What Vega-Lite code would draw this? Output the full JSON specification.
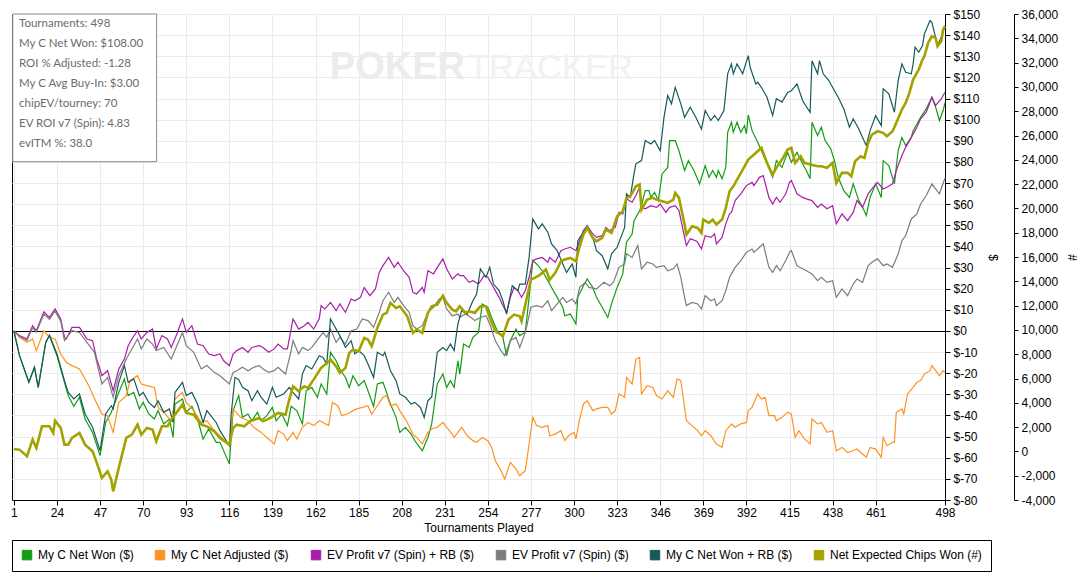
{
"$schema": "https://vega.github.io/schema/vega-lite/v6.json",
"width": 933, "height": 486,
"autosize": {"type": "none"},
"padding": {"left": 12, "top": 14, "right": 137, "bottom": 85},
"config": {
  "view": {"stroke": "black", "strokeWidth": 1},
  "axis": {"labelFont": "Liberation Sans", "labelFontSize": 12, "labelColor": "black", "titleFont": "Liberation Sans", "titleFontSize": 12, "titleFontWeight": "normal", "titleColor": "black", "domainColor": "black", "tickColor": "black", "labelOverlap": false, "labelFlush": false}
},
"datasets": {
  "info": [{"info": "Tournaments: 498\nMy C Net Won: $108.00\nROI % Adjusted: -1.28\nMy C Avg Buy-In: $3.00\nchipEV/tourney: 70\nEV ROI v7 (Spin): 4.83\nevITM %: 38.0"}],
  "wm": [{"a": "POKER", "b": "TRACKER"}],
  "nw": [{"t":1,"v":0},{"t":4,"v":-11.7},{"t":9,"v":-24.3},{"t":12,"v":-17.2},{"t":14,"v":-26.7},{"t":18,"v":-5.4},{"t":20,"v":-2.2},{"t":21,"v":-4.6},{"t":24,"v":-11.7},{"t":28,"v":-24.3},{"t":30,"v":-30.6},{"t":33,"v":-35.7},{"t":36,"v":-31.4},{"t":39,"v":-41.7},{"t":43,"v":-48.0},{"t":47,"v":-59.0},{"t":50,"v":-43.3},{"t":53,"v":-38.5},{"t":57,"v":-29.1},{"t":60,"v":-22.7},{"t":62,"v":-30.6},{"t":65,"v":-29.1},{"t":68,"v":-36.9},{"t":70,"v":-33.8},{"t":73,"v":-39.3},{"t":76,"v":-41.7},{"t":78,"v":-37.7},{"t":81,"v":-44.0},{"t":84,"v":-41.7},{"t":86,"v":-50.4},{"t":87,"v":-34.6},{"t":91,"v":-32.2},{"t":93,"v":-38.5},{"t":96,"v":-35.7},{"t":99,"v":-41.7},{"t":102,"v":-51.1},{"t":105,"v":-46.4},{"t":109,"v":-52.7},{"t":111,"v":-52.7},{"t":116,"v":-62.9},{"t":118,"v":-37.7},{"t":121,"v":-30.6},{"t":123,"v":-40.9},{"t":126,"v":-39.3},{"t":128,"v":-42.5},{"t":131,"v":-38.5},{"t":133,"v":-42.5},{"t":136,"v":-40.1},{"t":139,"v":-36.2},{"t":141,"v":-42.5},{"t":144,"v":-39.3},{"t":147,"v":-44.8},{"t":149,"v":-35.7},{"t":152,"v":-37.7},{"t":155,"v":-44.0},{"t":157,"v":-28.3},{"t":160,"v":-26.7},{"t":163,"v":-31.4},{"t":165,"v":-25.1},{"t":168,"v":-29.8},{"t":170,"v":-10.1},{"t":173,"v":-14.1},{"t":175,"v":-18.0},{"t":178,"v":-22.0},{"t":180,"v":-26.7},{"t":182,"v":-21.2},{"t":185,"v":-25.9},{"t":188,"v":-23.5},{"t":190,"v":-28.3},{"t":193,"v":-35.7},{"t":195,"v":-25.1},{"t":198,"v":-24.3},{"t":199,"v":-26.7},{"t":202,"v":-34.6},{"t":205,"v":-40.9},{"t":207,"v":-48.0},{"t":210,"v":-45.6},{"t":213,"v":-48.8},{"t":215,"v":-51.9},{"t":219,"v":-56.7},{"t":222,"v":-50.4},{"t":224,"v":-44.0},{"t":227,"v":-25.1},{"t":230,"v":-20.4},{"t":232,"v":-26.7},{"t":234,"v":-23.5},{"t":236,"v":-26.7},{"t":238,"v":-14.1},{"t":239,"v":-20.4},{"t":241,"v":-6.2},{"t":244,"v":-7.8},{"t":246,"v":-3.0},{"t":249,"v":-0.7},{"t":251,"v":12.8},{"t":254,"v":11.2},{"t":256,"v":6.4},{"t":259,"v":0.1},{"t":262,"v":-3.0},{"t":264,"v":-11.7},{"t":266,"v":-4.6},{"t":269,"v":0.9},{"t":271,"v":-2.2},{"t":274,"v":-0.7},{"t":276,"v":15.9},{"t":278,"v":33.3},{"t":280,"v":31.7},{"t":283,"v":28.5},{"t":286,"v":23.8},{"t":288,"v":20.6},{"t":291,"v":15.9},{"t":294,"v":11.2},{"t":295,"v":7.2},{"t":298,"v":8.0},{"t":301,"v":3.3},{"t":302,"v":15.9},{"t":305,"v":21.4},{"t":307,"v":24.6},{"t":310,"v":20.6},{"t":312,"v":15.9},{"t":315,"v":11.2},{"t":318,"v":6.4},{"t":320,"v":12.8},{"t":323,"v":20.6},{"t":326,"v":27.0},{"t":328,"v":42.0},{"t":331,"v":45.9},{"t":332,"v":52.2},{"t":335,"v":56.9},{"t":336,"v":59.5},{"t":338,"v":66.4},{"t":340,"v":66.4},{"t":341,"v":63.2},{"t":343,"v":65.6},{"t":345,"v":61.7},{"t":347,"v":74.3},{"t":350,"v":77.4},{"t":351,"v":90.1},{"t":354,"v":90.1},{"t":356,"v":85.3},{"t":359,"v":75.9},{"t":361,"v":80.6},{"t":364,"v":75.9},{"t":367,"v":69.6},{"t":370,"v":78.3},{"t":372,"v":72.7},{"t":374,"v":75.9},{"t":376,"v":72.7},{"t":377,"v":75.9},{"t":379,"v":72.0},{"t":381,"v":77.4},{"t":382,"v":94.0},{"t":384,"v":98.8},{"t":385,"v":94.0},{"t":387,"v":98.8},{"t":389,"v":94.0},{"t":391,"v":97.2},{"t":392,"v":93.3},{"t":393,"v":102.3},{"t":395,"v":94.8},{"t":398,"v":89.3},{"t":400,"v":85.3},{"t":403,"v":79.1},{"t":406,"v":72.7},{"t":408,"v":80.6},{"t":411,"v":77.4},{"t":414,"v":84.5},{"t":416,"v":79.8},{"t":419,"v":84.5},{"t":422,"v":79.1},{"t":424,"v":75.9},{"t":426,"v":72.0},{"t":427,"v":98.8},{"t":430,"v":92.5},{"t":432,"v":96.4},{"t":434,"v":90.1},{"t":437,"v":86.2},{"t":439,"v":80.6},{"t":441,"v":72.7},{"t":444,"v":66.4},{"t":447,"v":63.2},{"t":449,"v":69.6},{"t":452,"v":61.7},{"t":454,"v":58.5},{"t":456,"v":54.6},{"t":458,"v":63.2},{"t":461,"v":69.6},{"t":464,"v":63.2},{"t":465,"v":80.6},{"t":468,"v":78.3},{"t":471,"v":69.6},{"t":473,"v":85.3},{"t":475,"v":91.6},{"t":477,"v":87.7},{"t":480,"v":91.6},{"t":481,"v":94.8},{"t":485,"v":101.1},{"t":488,"v":105.1},{"t":491,"v":110.6},{"t":493,"v":105.9},{"t":495,"v":99.6},{"t":497,"v":104.3},{"t":498,"v":108.0}],
  "na": [{"t":1,"v":0},{"t":4,"v":-3.0},{"t":8,"v":-5.4},{"t":11,"v":-3.8},{"t":13,"v":-9.3},{"t":17,"v":0.1},{"t":20,"v":-3.0},{"t":23,"v":-3.8},{"t":26,"v":-10.9},{"t":29,"v":-14.9},{"t":32,"v":-16.4},{"t":36,"v":-18.0},{"t":41,"v":-25.9},{"t":45,"v":-33.8},{"t":48,"v":-39.3},{"t":51,"v":-40.1},{"t":54,"v":-48.0},{"t":57,"v":-33.8},{"t":61,"v":-30.6},{"t":63,"v":-23.5},{"t":67,"v":-21.2},{"t":69,"v":-25.1},{"t":72,"v":-25.9},{"t":76,"v":-26.7},{"t":78,"v":-36.2},{"t":81,"v":-38.5},{"t":85,"v":-42.5},{"t":87,"v":-32.2},{"t":91,"v":-29.1},{"t":93,"v":-33.8},{"t":97,"v":-37.7},{"t":101,"v":-43.3},{"t":104,"v":-42.5},{"t":108,"v":-47.2},{"t":111,"v":-49.6},{"t":116,"v":-54.3},{"t":118,"v":-36.9},{"t":122,"v":-40.9},{"t":126,"v":-42.5},{"t":129,"v":-45.6},{"t":133,"v":-48.0},{"t":136,"v":-50.4},{"t":140,"v":-53.5},{"t":142,"v":-47.2},{"t":145,"v":-48.8},{"t":147,"v":-51.9},{"t":150,"v":-48.0},{"t":152,"v":-51.1},{"t":155,"v":-45.6},{"t":158,"v":-43.3},{"t":161,"v":-44.8},{"t":164,"v":-42.5},{"t":166,"v":-43.3},{"t":169,"v":-44.8},{"t":171,"v":-33.8},{"t":174,"v":-35.4},{"t":176,"v":-40.1},{"t":179,"v":-39.3},{"t":182,"v":-37.7},{"t":184,"v":-36.9},{"t":187,"v":-36.2},{"t":190,"v":-35.4},{"t":192,"v":-39.3},{"t":195,"v":-35.4},{"t":198,"v":-31.4},{"t":200,"v":-30.6},{"t":202,"v":-35.4},{"t":205,"v":-34.6},{"t":207,"v":-37.7},{"t":211,"v":-43.3},{"t":214,"v":-48.8},{"t":216,"v":-50.4},{"t":219,"v":-53.5},{"t":222,"v":-48.0},{"t":224,"v":-46.4},{"t":227,"v":-45.6},{"t":230,"v":-43.3},{"t":232,"v":-45.6},{"t":235,"v":-48.8},{"t":236,"v":-50.4},{"t":238,"v":-48.0},{"t":240,"v":-45.6},{"t":243,"v":-49.6},{"t":246,"v":-51.9},{"t":248,"v":-52.7},{"t":251,"v":-50.4},{"t":254,"v":-51.9},{"t":256,"v":-55.1},{"t":258,"v":-61.4},{"t":261,"v":-66.1},{"t":263,"v":-70.1},{"t":266,"v":-62.2},{"t":269,"v":-65.3},{"t":271,"v":-68.5},{"t":274,"v":-66.1},{"t":276,"v":-53.5},{"t":278,"v":-40.9},{"t":280,"v":-44.8},{"t":283,"v":-45.6},{"t":286,"v":-44.8},{"t":287,"v":-49.6},{"t":290,"v":-48.8},{"t":293,"v":-47.2},{"t":295,"v":-51.9},{"t":297,"v":-49.6},{"t":300,"v":-48.0},{"t":301,"v":-51.1},{"t":303,"v":-41.7},{"t":305,"v":-34.6},{"t":307,"v":-33.0},{"t":310,"v":-37.7},{"t":312,"v":-36.9},{"t":315,"v":-36.2},{"t":318,"v":-36.2},{"t":320,"v":-39.3},{"t":322,"v":-37.7},{"t":324,"v":-29.8},{"t":327,"v":-31.4},{"t":328,"v":-22.0},{"t":331,"v":-25.1},{"t":333,"v":-13.3},{"t":335,"v":-12.5},{"t":336,"v":-29.8},{"t":339,"v":-25.9},{"t":342,"v":-26.7},{"t":344,"v":-30.6},{"t":347,"v":-32.2},{"t":350,"v":-28.3},{"t":353,"v":-31.4},{"t":355,"v":-22.7},{"t":357,"v":-23.5},{"t":359,"v":-36.2},{"t":360,"v":-42.5},{"t":363,"v":-44.8},{"t":366,"v":-47.2},{"t":368,"v":-49.6},{"t":370,"v":-47.2},{"t":373,"v":-49.6},{"t":376,"v":-53.5},{"t":379,"v":-55.1},{"t":381,"v":-47.2},{"t":384,"v":-44.0},{"t":386,"v":-45.6},{"t":389,"v":-44.0},{"t":392,"v":-43.3},{"t":393,"v":-37.7},{"t":395,"v":-36.2},{"t":398,"v":-29.8},{"t":400,"v":-32.2},{"t":402,"v":-31.4},{"t":404,"v":-40.1},{"t":407,"v":-40.1},{"t":408,"v":-42.5},{"t":411,"v":-40.9},{"t":414,"v":-38.5},{"t":416,"v":-39.3},{"t":418,"v":-50.4},{"t":420,"v":-47.2},{"t":423,"v":-51.1},{"t":426,"v":-53.5},{"t":427,"v":-41.7},{"t":430,"v":-44.0},{"t":432,"v":-43.3},{"t":435,"v":-48.0},{"t":438,"v":-47.2},{"t":440,"v":-56.7},{"t":443,"v":-55.1},{"t":446,"v":-57.5},{"t":449,"v":-56.7},{"t":451,"v":-55.9},{"t":454,"v":-58.2},{"t":456,"v":-59.8},{"t":458,"v":-55.1},{"t":461,"v":-55.9},{"t":464,"v":-59.8},{"t":465,"v":-50.4},{"t":467,"v":-54.3},{"t":470,"v":-52.7},{"t":471,"v":-52.7},{"t":472,"v":-38.5},{"t":475,"v":-36.9},{"t":476,"v":-39.3},{"t":478,"v":-29.8},{"t":481,"v":-26.7},{"t":483,"v":-24.3},{"t":485,"v":-23.5},{"t":487,"v":-20.4},{"t":490,"v":-18.8},{"t":491,"v":-16.4},{"t":493,"v":-18.8},{"t":495,"v":-21.2},{"t":497,"v":-18.8},{"t":498,"v":-19.5}],
  "evrb": [{"t":1,"v":0},{"t":4,"v":-2.2},{"t":8,"v":-3.8},{"t":11,"v":2.5},{"t":13,"v":0.1},{"t":17,"v":9.1},{"t":20,"v":6.4},{"t":23,"v":10.4},{"t":26,"v":5.7},{"t":28,"v":-3.0},{"t":29,"v":-3.8},{"t":32,"v":1.7},{"t":36,"v":1.7},{"t":40,"v":-3.8},{"t":43,"v":-4.6},{"t":45,"v":-12.5},{"t":48,"v":-21.2},{"t":51,"v":-18.8},{"t":54,"v":-28.3},{"t":57,"v":-18.0},{"t":60,"v":-13.3},{"t":62,"v":-7.0},{"t":64,"v":-3.8},{"t":67,"v":0.1},{"t":69,"v":-3.8},{"t":72,"v":-0.7},{"t":75,"v":0.9},{"t":77,"v":-8.5},{"t":80,"v":-2.2},{"t":83,"v":-3.8},{"t":85,"v":-7.8},{"t":88,"v":-1.4},{"t":91,"v":5.7},{"t":93,"v":-0.7},{"t":96,"v":2.5},{"t":99,"v":-6.2},{"t":102,"v":-7.0},{"t":105,"v":-10.9},{"t":108,"v":-11.7},{"t":111,"v":-10.9},{"t":113,"v":-14.1},{"t":116,"v":-16.4},{"t":118,"v":-10.9},{"t":120,"v":-9.3},{"t":123,"v":-7.8},{"t":126,"v":-10.1},{"t":128,"v":-7.8},{"t":132,"v":-7.0},{"t":134,"v":-7.8},{"t":137,"v":-10.1},{"t":140,"v":-8.5},{"t":142,"v":-6.2},{"t":145,"v":-8.5},{"t":147,"v":-8.5},{"t":150,"v":5.7},{"t":153,"v":0.9},{"t":156,"v":2.5},{"t":158,"v":4.1},{"t":161,"v":0.9},{"t":164,"v":5.7},{"t":165,"v":12.0},{"t":167,"v":10.4},{"t":170,"v":13.5},{"t":173,"v":9.6},{"t":175,"v":12.8},{"t":178,"v":8.8},{"t":181,"v":15.1},{"t":183,"v":14.3},{"t":186,"v":15.9},{"t":188,"v":20.6},{"t":191,"v":16.7},{"t":194,"v":19.9},{"t":196,"v":27.7},{"t":198,"v":30.9},{"t":201,"v":34.8},{"t":204,"v":30.1},{"t":206,"v":32.5},{"t":209,"v":28.5},{"t":212,"v":25.4},{"t":214,"v":18.3},{"t":216,"v":17.5},{"t":219,"v":20.6},{"t":220,"v":18.3},{"t":222,"v":28.5},{"t":225,"v":27.0},{"t":227,"v":30.1},{"t":230,"v":34.1},{"t":232,"v":29.4},{"t":235,"v":24.6},{"t":238,"v":27.0},{"t":239,"v":26.2},{"t":241,"v":26.2},{"t":244,"v":23.0},{"t":246,"v":23.8},{"t":249,"v":22.2},{"t":252,"v":26.2},{"t":254,"v":25.4},{"t":256,"v":22.2},{"t":258,"v":19.1},{"t":260,"v":15.9},{"t":262,"v":12.0},{"t":264,"v":8.8},{"t":266,"v":15.9},{"t":268,"v":20.6},{"t":270,"v":19.1},{"t":272,"v":15.9},{"t":274,"v":19.1},{"t":276,"v":25.4},{"t":278,"v":33.3},{"t":280,"v":34.1},{"t":283,"v":34.8},{"t":286,"v":32.5},{"t":287,"v":34.8},{"t":290,"v":32.5},{"t":293,"v":38.0},{"t":295,"v":38.8},{"t":298,"v":39.6},{"t":301,"v":38.0},{"t":303,"v":42.7},{"t":305,"v":47.5},{"t":307,"v":49.8},{"t":310,"v":45.9},{"t":312,"v":44.3},{"t":315,"v":45.1},{"t":317,"v":49.0},{"t":319,"v":47.5},{"t":322,"v":49.0},{"t":324,"v":56.1},{"t":326,"v":55.4},{"t":328,"v":62.5},{"t":331,"v":60.9},{"t":333,"v":64.1},{"t":335,"v":68.0},{"t":336,"v":58.5},{"t":338,"v":57.8},{"t":341,"v":59.3},{"t":344,"v":58.5},{"t":346,"v":60.1},{"t":349,"v":56.1},{"t":351,"v":58.5},{"t":354,"v":59.3},{"t":356,"v":57.0},{"t":359,"v":44.3},{"t":360,"v":40.4},{"t":362,"v":43.6},{"t":365,"v":42.7},{"t":366,"v":41.9},{"t":368,"v":38.8},{"t":370,"v":45.1},{"t":373,"v":44.3},{"t":375,"v":45.9},{"t":376,"v":41.2},{"t":379,"v":44.3},{"t":381,"v":50.7},{"t":383,"v":55.4},{"t":384,"v":56.1},{"t":386,"v":61.7},{"t":389,"v":64.9},{"t":392,"v":68.8},{"t":395,"v":70.3},{"t":396,"v":68.8},{"t":399,"v":72.7},{"t":401,"v":73.5},{"t":404,"v":63.2},{"t":406,"v":60.1},{"t":408,"v":63.2},{"t":410,"v":60.9},{"t":413,"v":64.9},{"t":415,"v":70.3},{"t":416,"v":71.2},{"t":419,"v":64.9},{"t":422,"v":63.2},{"t":424,"v":62.5},{"t":427,"v":61.7},{"t":430,"v":58.5},{"t":432,"v":60.1},{"t":435,"v":57.8},{"t":438,"v":59.3},{"t":440,"v":50.7},{"t":443,"v":55.4},{"t":446,"v":52.2},{"t":449,"v":56.1},{"t":451,"v":61.7},{"t":454,"v":58.5},{"t":457,"v":64.9},{"t":459,"v":67.2},{"t":462,"v":70.3},{"t":465,"v":67.2},{"t":467,"v":68.0},{"t":470,"v":69.6},{"t":472,"v":75.9},{"t":475,"v":83.0},{"t":477,"v":86.9},{"t":480,"v":91.6},{"t":483,"v":96.4},{"t":485,"v":100.4},{"t":488,"v":103.5},{"t":491,"v":110.6},{"t":493,"v":106.7},{"t":496,"v":109.8},{"t":498,"v":113.0}],
  "ev": [{"t":1,"v":0},{"t":4,"v":-2.5},{"t":8,"v":-4.5},{"t":11,"v":1.5},{"t":13,"v":-0.5},{"t":17,"v":8.0},{"t":20,"v":5.5},{"t":23,"v":9.5},{"t":26,"v":4.5},{"t":28,"v":-4.6},{"t":32,"v":0.1},{"t":36,"v":-0.7},{"t":40,"v":-5.4},{"t":44,"v":-10.1},{"t":48,"v":-25.1},{"t":51,"v":-22.0},{"t":54,"v":-31.4},{"t":57,"v":-21.2},{"t":61,"v":-13.3},{"t":67,"v":-3.8},{"t":69,"v":-8.5},{"t":72,"v":-3.8},{"t":75,"v":-6.2},{"t":77,"v":-9.3},{"t":81,"v":-7.8},{"t":85,"v":-13.3},{"t":88,"v":-7.0},{"t":91,"v":-0.7},{"t":93,"v":-7.0},{"t":97,"v":-10.1},{"t":101,"v":-18.0},{"t":104,"v":-16.4},{"t":108,"v":-19.6},{"t":111,"v":-21.2},{"t":116,"v":-25.1},{"t":118,"v":-19.6},{"t":120,"v":-18.8},{"t":123,"v":-17.2},{"t":126,"v":-18.8},{"t":129,"v":-17.2},{"t":132,"v":-16.4},{"t":134,"v":-18.0},{"t":137,"v":-19.6},{"t":140,"v":-18.8},{"t":142,"v":-17.2},{"t":146,"v":-20.4},{"t":149,"v":-9.3},{"t":150,"v":-4.6},{"t":153,"v":-10.9},{"t":155,"v":-7.8},{"t":158,"v":-9.3},{"t":160,"v":-7.8},{"t":164,"v":-3.0},{"t":166,"v":-0.7},{"t":168,"v":-3.0},{"t":170,"v":0.9},{"t":173,"v":-5.4},{"t":175,"v":-3.0},{"t":178,"v":-6.2},{"t":181,"v":0.1},{"t":184,"v":0.9},{"t":187,"v":5.7},{"t":190,"v":4.9},{"t":193,"v":1.7},{"t":196,"v":8.8},{"t":198,"v":14.3},{"t":201,"v":18.3},{"t":204,"v":13.5},{"t":206,"v":15.9},{"t":209,"v":12.0},{"t":212,"v":8.8},{"t":214,"v":2.5},{"t":216,"v":0.9},{"t":219,"v":2.5},{"t":222,"v":8.8},{"t":225,"v":11.2},{"t":228,"v":15.1},{"t":230,"v":15.9},{"t":232,"v":10.4},{"t":235,"v":7.2},{"t":238,"v":8.0},{"t":239,"v":6.4},{"t":242,"v":8.0},{"t":245,"v":6.4},{"t":247,"v":4.9},{"t":250,"v":6.4},{"t":253,"v":7.2},{"t":255,"v":3.3},{"t":258,"v":-4.6},{"t":261,"v":-9.3},{"t":263,"v":-11.7},{"t":266,"v":-4.6},{"t":269,"v":-3.0},{"t":271,"v":-7.8},{"t":274,"v":-0.7},{"t":277,"v":11.2},{"t":280,"v":12.0},{"t":283,"v":11.2},{"t":286,"v":14.3},{"t":288,"v":9.6},{"t":291,"v":12.8},{"t":294,"v":15.9},{"t":296,"v":13.5},{"t":299,"v":15.1},{"t":301,"v":12.8},{"t":303,"v":20.6},{"t":306,"v":23.0},{"t":308,"v":20.6},{"t":312,"v":19.9},{"t":316,"v":23.0},{"t":319,"v":21.4},{"t":321,"v":23.0},{"t":324,"v":30.1},{"t":327,"v":31.7},{"t":328,"v":36.5},{"t":331,"v":34.8},{"t":334,"v":40.4},{"t":336,"v":29.4},{"t":339,"v":32.5},{"t":342,"v":31.7},{"t":344,"v":30.1},{"t":348,"v":30.9},{"t":350,"v":28.5},{"t":353,"v":29.4},{"t":355,"v":31.7},{"t":357,"v":25.4},{"t":359,"v":15.9},{"t":360,"v":12.0},{"t":363,"v":13.5},{"t":366,"v":12.8},{"t":368,"v":10.4},{"t":370,"v":16.7},{"t":373,"v":14.3},{"t":375,"v":15.1},{"t":376,"v":12.0},{"t":379,"v":14.3},{"t":381,"v":19.1},{"t":383,"v":25.4},{"t":384,"v":27.0},{"t":386,"v":30.1},{"t":389,"v":33.3},{"t":392,"v":37.2},{"t":395,"v":38.8},{"t":396,"v":37.2},{"t":399,"v":39.6},{"t":401,"v":41.2},{"t":404,"v":30.1},{"t":406,"v":27.7},{"t":408,"v":30.9},{"t":410,"v":28.5},{"t":413,"v":33.3},{"t":415,"v":37.2},{"t":416,"v":38.0},{"t":419,"v":30.9},{"t":422,"v":29.4},{"t":424,"v":28.5},{"t":427,"v":27.0},{"t":430,"v":23.8},{"t":432,"v":25.4},{"t":435,"v":23.0},{"t":438,"v":23.8},{"t":440,"v":15.9},{"t":443,"v":19.9},{"t":446,"v":16.7},{"t":449,"v":22.2},{"t":451,"v":24.6},{"t":454,"v":23.0},{"t":457,"v":30.9},{"t":459,"v":32.5},{"t":462,"v":34.1},{"t":465,"v":30.9},{"t":467,"v":31.7},{"t":470,"v":30.1},{"t":473,"v":36.5},{"t":475,"v":42.7},{"t":477,"v":45.1},{"t":480,"v":53.0},{"t":483,"v":55.4},{"t":485,"v":60.1},{"t":488,"v":64.1},{"t":491,"v":69.6},{"t":493,"v":67.2},{"t":495,"v":64.9},{"t":498,"v":72.3}],
  "nwrb": [{"t":1,"v":0},{"t":4,"v":-11.7},{"t":9,"v":-24.3},{"t":12,"v":-17.2},{"t":14,"v":-26.7},{"t":18,"v":-5.4},{"t":20,"v":-2.0},{"t":24,"v":-10.9},{"t":28,"v":-23.5},{"t":30,"v":-29.1},{"t":33,"v":-32.2},{"t":36,"v":-29.8},{"t":39,"v":-39.3},{"t":43,"v":-45.6},{"t":47,"v":-56.7},{"t":50,"v":-39.3},{"t":53,"v":-35.4},{"t":54,"v":-36.9},{"t":57,"v":-24.3},{"t":60,"v":-16.4},{"t":62,"v":-24.3},{"t":65,"v":-22.7},{"t":68,"v":-30.6},{"t":70,"v":-29.1},{"t":73,"v":-33.8},{"t":76,"v":-36.2},{"t":78,"v":-33.0},{"t":81,"v":-38.5},{"t":84,"v":-36.9},{"t":86,"v":-43.3},{"t":87,"v":-29.1},{"t":91,"v":-24.3},{"t":93,"v":-30.6},{"t":96,"v":-29.1},{"t":99,"v":-34.6},{"t":102,"v":-43.3},{"t":104,"v":-37.7},{"t":109,"v":-43.3},{"t":111,"v":-47.2},{"t":116,"v":-54.3},{"t":117,"v":-39.3},{"t":119,"v":-22.0},{"t":121,"v":-23.0},{"t":123,"v":-26.7},{"t":126,"v":-28.3},{"t":128,"v":-33.0},{"t":131,"v":-28.3},{"t":133,"v":-31.4},{"t":136,"v":-34.6},{"t":139,"v":-26.7},{"t":141,"v":-31.4},{"t":145,"v":-29.8},{"t":148,"v":-26.7},{"t":150,"v":-29.1},{"t":153,"v":-32.2},{"t":155,"v":-20.4},{"t":157,"v":-16.4},{"t":160,"v":-18.0},{"t":164,"v":-11.7},{"t":166,"v":-12.5},{"t":168,"v":-15.6},{"t":170,"v":5.7},{"t":173,"v":0.9},{"t":175,"v":-2.2},{"t":178,"v":-7.8},{"t":181,"v":-4.6},{"t":183,"v":-10.9},{"t":185,"v":-9.3},{"t":188,"v":-11.7},{"t":190,"v":-15.6},{"t":193,"v":-22.0},{"t":195,"v":-10.1},{"t":198,"v":-11.7},{"t":199,"v":-10.1},{"t":202,"v":-18.8},{"t":205,"v":-23.5},{"t":207,"v":-29.8},{"t":210,"v":-31.4},{"t":213,"v":-34.6},{"t":215,"v":-33.8},{"t":218,"v":-36.2},{"t":220,"v":-40.9},{"t":222,"v":-33.0},{"t":224,"v":-31.4},{"t":227,"v":-10.1},{"t":230,"v":-7.8},{"t":232,"v":-9.3},{"t":234,"v":-6.2},{"t":236,"v":-9.3},{"t":238,"v":3.3},{"t":240,"v":9.6},{"t":243,"v":8.0},{"t":246,"v":14.3},{"t":248,"v":17.5},{"t":250,"v":29.4},{"t":253,"v":25.4},{"t":255,"v":30.1},{"t":257,"v":22.2},{"t":260,"v":19.1},{"t":262,"v":14.3},{"t":264,"v":8.0},{"t":267,"v":21.4},{"t":270,"v":19.1},{"t":271,"v":22.2},{"t":274,"v":22.2},{"t":276,"v":34.8},{"t":278,"v":53.0},{"t":279,"v":51.4},{"t":281,"v":48.3},{"t":283,"v":50.7},{"t":286,"v":46.7},{"t":288,"v":41.2},{"t":291,"v":38.0},{"t":294,"v":31.7},{"t":296,"v":27.7},{"t":299,"v":31.7},{"t":301,"v":25.4},{"t":302,"v":42.7},{"t":305,"v":46.7},{"t":307,"v":49.8},{"t":310,"v":44.3},{"t":312,"v":38.0},{"t":315,"v":35.6},{"t":318,"v":29.4},{"t":320,"v":36.5},{"t":323,"v":39.6},{"t":325,"v":44.3},{"t":327,"v":49.0},{"t":328,"v":64.9},{"t":330,"v":63.2},{"t":332,"v":74.3},{"t":333,"v":79.1},{"t":336,"v":80.6},{"t":338,"v":90.1},{"t":341,"v":88.5},{"t":343,"v":90.1},{"t":346,"v":85.3},{"t":348,"v":101.1},{"t":350,"v":111.4},{"t":352,"v":107.5},{"t":354,"v":115.3},{"t":357,"v":107.5},{"t":359,"v":101.1},{"t":362,"v":105.9},{"t":365,"v":101.1},{"t":368,"v":95.5},{"t":370,"v":104.3},{"t":373,"v":99.6},{"t":375,"v":102.0},{"t":377,"v":99.6},{"t":380,"v":104.3},{"t":382,"v":121.7},{"t":384,"v":126.4},{"t":385,"v":121.7},{"t":387,"v":126.4},{"t":390,"v":121.7},{"t":393,"v":130.3},{"t":394,"v":124.8},{"t":397,"v":116.9},{"t":398,"v":117.7},{"t":400,"v":115.3},{"t":403,"v":110.6},{"t":406,"v":102.0},{"t":408,"v":109.9},{"t":411,"v":108.3},{"t":414,"v":112.9},{"t":416,"v":113.7},{"t":419,"v":116.9},{"t":422,"v":109.1},{"t":423,"v":107.5},{"t":426,"v":103.5},{"t":427,"v":127.9},{"t":430,"v":121.7},{"t":431,"v":127.9},{"t":433,"v":121.7},{"t":436,"v":118.5},{"t":439,"v":113.7},{"t":441,"v":110.6},{"t":444,"v":105.1},{"t":447,"v":96.4},{"t":449,"v":100.4},{"t":452,"v":95.6},{"t":454,"v":91.6},{"t":456,"v":87.7},{"t":458,"v":94.8},{"t":461,"v":101.9},{"t":464,"v":97.2},{"t":465,"v":114.6},{"t":468,"v":112.2},{"t":471,"v":103.5},{"t":473,"v":118.5},{"t":475,"v":126.4},{"t":477,"v":122.4},{"t":480,"v":121.7},{"t":481,"v":126.4},{"t":482,"v":134.3},{"t":484,"v":131.9},{"t":486,"v":135.1},{"t":487,"v":140.6},{"t":490,"v":146.9},{"t":491,"v":146.1},{"t":494,"v":135.1},{"t":496,"v":139.0},{"t":498,"v":144.5}],
  "chips": [{"t":1,"v":200},{"t":4,"v":146},{"t":8,"v":-405},{"t":11,"v":969},{"t":13,"v":286},{"t":16,"v":2064},{"t":20,"v":2064},{"t":22,"v":1521},{"t":23,"v":2534},{"t":26,"v":1933},{"t":28,"v":558},{"t":30,"v":558},{"t":32,"v":1110},{"t":36,"v":1521},{"t":39,"v":558},{"t":43,"v":10},{"t":45,"v":-817},{"t":48,"v":-2183},{"t":51,"v":-1640},{"t":53,"v":-2323},{"t":54,"v":-3287},{"t":57,"v":-1360},{"t":61,"v":1110},{"t":64,"v":1381},{"t":67,"v":2204},{"t":69,"v":1381},{"t":72,"v":1933},{"t":75,"v":1793},{"t":77,"v":829},{"t":80,"v":2064},{"t":83,"v":2064},{"t":85,"v":2616},{"t":91,"v":3851},{"t":93,"v":3167},{"t":97,"v":3027},{"t":101,"v":2204},{"t":104,"v":2064},{"t":108,"v":1653},{"t":111,"v":1110},{"t":116,"v":558},{"t":118,"v":1933},{"t":120,"v":2204},{"t":124,"v":2064},{"t":127,"v":2476},{"t":132,"v":2756},{"t":134,"v":2476},{"t":138,"v":2756},{"t":142,"v":3167},{"t":146,"v":3027},{"t":148,"v":4262},{"t":150,"v":5357},{"t":153,"v":4946},{"t":156,"v":5357},{"t":158,"v":5225},{"t":161,"v":5909},{"t":165,"v":6872},{"t":167,"v":7144},{"t":170,"v":7555},{"t":173,"v":7004},{"t":175,"v":6460},{"t":178,"v":6872},{"t":180,"v":8107},{"t":182,"v":8378},{"t":185,"v":8238},{"t":188,"v":9341},{"t":190,"v":9201},{"t":192,"v":8650},{"t":195,"v":10165},{"t":198,"v":11259},{"t":200,"v":11399},{"t":202,"v":12223},{"t":205,"v":11811},{"t":207,"v":11943},{"t":211,"v":11120},{"t":214,"v":9753},{"t":216,"v":10025},{"t":219,"v":9753},{"t":222,"v":11399},{"t":224,"v":11943},{"t":227,"v":12083},{"t":230,"v":12824},{"t":232,"v":12223},{"t":235,"v":11671},{"t":237,"v":11531},{"t":239,"v":11943},{"t":242,"v":11399},{"t":244,"v":11531},{"t":247,"v":11399},{"t":250,"v":11943},{"t":253,"v":11943},{"t":255,"v":10988},{"t":258,"v":9885},{"t":261,"v":9613},{"t":262,"v":9473},{"t":265,"v":10848},{"t":268,"v":11259},{"t":271,"v":11120},{"t":272,"v":10708},{"t":274,"v":12083},{"t":277,"v":14141},{"t":279,"v":14281},{"t":282,"v":14552},{"t":285,"v":14964},{"t":287,"v":14141},{"t":290,"v":14692},{"t":293,"v":15647},{"t":295,"v":15787},{"t":298,"v":15927},{"t":301,"v":15647},{"t":303,"v":16882},{"t":305,"v":17845},{"t":307,"v":18397},{"t":310,"v":17573},{"t":312,"v":17294},{"t":315,"v":17573},{"t":317,"v":18257},{"t":320,"v":17985},{"t":323,"v":19352},{"t":326,"v":19763},{"t":328,"v":20866},{"t":330,"v":20998},{"t":333,"v":21821},{"t":335,"v":21961},{"t":336,"v":19903},{"t":339,"v":20726},{"t":342,"v":20866},{"t":344,"v":20726},{"t":347,"v":20586},{"t":350,"v":20455},{"t":353,"v":20726},{"t":354,"v":21278},{"t":356,"v":20866},{"t":359,"v":18668},{"t":360,"v":17845},{"t":363,"v":18528},{"t":366,"v":18397},{"t":368,"v":17985},{"t":369,"v":19080},{"t":372,"v":18808},{"t":374,"v":19080},{"t":376,"v":18668},{"t":379,"v":19080},{"t":381,"v":20043},{"t":383,"v":21410},{"t":385,"v":21821},{"t":388,"v":22644},{"t":391,"v":23468},{"t":393,"v":24019},{"t":395,"v":24291},{"t":398,"v":24703},{"t":400,"v":24983},{"t":403,"v":23748},{"t":406,"v":22784},{"t":408,"v":23336},{"t":411,"v":24019},{"t":414,"v":24842},{"t":416,"v":24983},{"t":418,"v":23748},{"t":421,"v":24291},{"t":423,"v":23748},{"t":426,"v":23608},{"t":430,"v":23468},{"t":432,"v":23468},{"t":435,"v":23336},{"t":438,"v":23748},{"t":440,"v":22101},{"t":443,"v":22924},{"t":446,"v":22924},{"t":448,"v":22644},{"t":450,"v":23879},{"t":453,"v":24291},{"t":455,"v":24159},{"t":457,"v":25394},{"t":459,"v":26077},{"t":462,"v":26349},{"t":465,"v":26217},{"t":467,"v":25937},{"t":470,"v":26349},{"t":472,"v":27040},{"t":475,"v":28135},{"t":477,"v":28687},{"t":479,"v":29510},{"t":481,"v":30605},{"t":484,"v":31428},{"t":486,"v":32252},{"t":487,"v":32523},{"t":489,"v":33626},{"t":491,"v":34169},{"t":493,"v":34037},{"t":494,"v":33346},{"t":496,"v":33757},{"t":497,"v":34721},{"t":498,"v":34993}]
},
"layer": [
  {
    "layer": [
      {"data": {"name": "wm"}, "mark": {"type": "text", "align": "right", "baseline": "alphabetic", "font": "Liberation Sans", "fontSize": 38, "fontWeight": "bold", "color": "#ececec"},
       "encoding": {
         "x": {"datum": 241.8, "type": "quantitative", "title": "Tournaments Played", "scale": {"domain": [0, 498], "nice": false, "zero": false}, "axis": {"values": [1,24,47,70,93,116,139,162,185,208,231,254,277,300,323,346,369,392,415,438,461,498], "grid": true, "gridColor": "#ebebeb", "tickSize": 5, "labelPadding": 2, "titlePadding": 4}},
         "y": {"datum": 119.3, "type": "quantitative", "title": "$", "scale": {"domain": [-80, 150], "nice": false, "zero": false}, "axis": {"orient": "right", "values": [-80,-70,-60,-50,-40,-30,-20,-10,0,10,20,30,40,50,60,70,80,90,100,110,120,130,140,150], "labelExpr": "'$' + datum.value", "grid": true, "gridColor": {"condition": {"test": "datum.value === 0", "value": "#000000"}, "value": "#ebebeb"}, "tickSize": 5, "labelPadding": 3, "titlePadding": 6}},
         "text": {"field": "a"}}},
      {"data": {"name": "wm"}, "mark": {"type": "text", "align": "left", "baseline": "alphabetic", "font": "Liberation Sans", "fontSize": 34.5, "fontWeight": "normal", "color": "#f1f1f1"},
       "encoding": {
         "x": {"datum": 243.4, "type": "quantitative", "title": "Tournaments Played", "scale": {"domain": [0, 498], "nice": false, "zero": false}, "axis": {"values": [1,24,47,70,93,116,139,162,185,208,231,254,277,300,323,346,369,392,415,438,461,498], "grid": true, "gridColor": "#ebebeb", "tickSize": 5, "labelPadding": 2, "titlePadding": 4}},
         "y": {"datum": 119.3, "type": "quantitative", "title": "$", "scale": {"domain": [-80, 150], "nice": false, "zero": false}, "axis": {"orient": "right", "values": [-80,-70,-60,-50,-40,-30,-20,-10,0,10,20,30,40,50,60,70,80,90,100,110,120,130,140,150], "labelExpr": "'$' + datum.value", "grid": true, "gridColor": {"condition": {"test": "datum.value === 0", "value": "#000000"}, "value": "#ebebeb"}, "tickSize": 5, "labelPadding": 3, "titlePadding": 6}},
         "text": {"field": "b"}}},
      {"data": {"name": "nw"}, "mark": {"type": "line", "strokeWidth": 1.2},
       "encoding": {
         "x": {"field": "t", "type": "quantitative", "title": "Tournaments Played", "scale": {"domain": [0, 498], "nice": false, "zero": false}, "axis": {"values": [1,24,47,70,93,116,139,162,185,208,231,254,277,300,323,346,369,392,415,438,461,498], "grid": true, "gridColor": "#ebebeb", "tickSize": 5, "labelPadding": 2, "titlePadding": 4}},
         "y": {"field": "v", "type": "quantitative", "title": "$", "scale": {"domain": [-80, 150], "nice": false, "zero": false}, "axis": {"orient": "right", "values": [-80,-70,-60,-50,-40,-30,-20,-10,0,10,20,30,40,50,60,70,80,90,100,110,120,130,140,150], "labelExpr": "'$' + datum.value", "grid": true, "gridColor": {"condition": {"test": "datum.value === 0", "value": "#000000"}, "value": "#ebebeb"}, "tickSize": 5, "labelPadding": 3, "titlePadding": 6}},
         "color": {"datum": "My C Net Won ($)",
         "scale": {"domain": ["My C Net Won ($)", "My C Net Adjusted ($)", "EV Profit v7 (Spin) + RB ($)", "EV Profit v7 (Spin) ($)", "My C Net Won + RB ($)", "Net Expected Chips Won (#)"],
                   "range": ["#139c13", "#ff9322", "#aa1caa", "#7c7c7c", "#165a5a", "#a2a200"]},
         "legend": {"orient": "none", "legendX": 0, "legendY": 526, "direction": "horizontal", "columns": 6, "title": null,
           "symbolType": "square", "symbolSize": 90, "symbolStrokeWidth": 1, "strokeColor": "black", "padding": 9,
           "labelFont": "Liberation Sans", "labelFontSize": 12, "labelColor": "black", "labelOffset": 5, "columnPadding": 19,
           "encoding": {"symbols": {"fill": {"value": {"signal": "scale('color', datum.value)"}}, "stroke": {"value": "black"}, "strokeWidth": {"value": 1}, "opacity": {"value": 1}, "fillOpacity": {"value": 1}}}}}}},
      {"data": {"name": "na"}, "mark": {"type": "line", "strokeWidth": 1.2}, "encoding": {
         "x": {"field": "t", "type": "quantitative", "title": "Tournaments Played", "scale": {"domain": [0, 498], "nice": false, "zero": false}, "axis": {"values": [1,24,47,70,93,116,139,162,185,208,231,254,277,300,323,346,369,392,415,438,461,498], "grid": true, "gridColor": "#ebebeb", "tickSize": 5, "labelPadding": 2, "titlePadding": 4}},
         "y": {"field": "v", "type": "quantitative", "title": "$", "scale": {"domain": [-80, 150], "nice": false, "zero": false}, "axis": {"orient": "right", "values": [-80,-70,-60,-50,-40,-30,-20,-10,0,10,20,30,40,50,60,70,80,90,100,110,120,130,140,150], "labelExpr": "'$' + datum.value", "grid": true, "gridColor": {"condition": {"test": "datum.value === 0", "value": "#000000"}, "value": "#ebebeb"}, "tickSize": 5, "labelPadding": 3, "titlePadding": 6}},
         "color": {"datum": "My C Net Adjusted ($)"}}},
      {"data": {"name": "evrb"}, "mark": {"type": "line", "strokeWidth": 1.2}, "encoding": {
         "x": {"field": "t", "type": "quantitative", "title": "Tournaments Played", "scale": {"domain": [0, 498], "nice": false, "zero": false}, "axis": {"values": [1,24,47,70,93,116,139,162,185,208,231,254,277,300,323,346,369,392,415,438,461,498], "grid": true, "gridColor": "#ebebeb", "tickSize": 5, "labelPadding": 2, "titlePadding": 4}},
         "y": {"field": "v", "type": "quantitative", "title": "$", "scale": {"domain": [-80, 150], "nice": false, "zero": false}, "axis": {"orient": "right", "values": [-80,-70,-60,-50,-40,-30,-20,-10,0,10,20,30,40,50,60,70,80,90,100,110,120,130,140,150], "labelExpr": "'$' + datum.value", "grid": true, "gridColor": {"condition": {"test": "datum.value === 0", "value": "#000000"}, "value": "#ebebeb"}, "tickSize": 5, "labelPadding": 3, "titlePadding": 6}},
         "color": {"datum": "EV Profit v7 (Spin) + RB ($)"}}},
      {"data": {"name": "ev"}, "mark": {"type": "line", "strokeWidth": 1.2}, "encoding": {
         "x": {"field": "t", "type": "quantitative", "title": "Tournaments Played", "scale": {"domain": [0, 498], "nice": false, "zero": false}, "axis": {"values": [1,24,47,70,93,116,139,162,185,208,231,254,277,300,323,346,369,392,415,438,461,498], "grid": true, "gridColor": "#ebebeb", "tickSize": 5, "labelPadding": 2, "titlePadding": 4}},
         "y": {"field": "v", "type": "quantitative", "title": "$", "scale": {"domain": [-80, 150], "nice": false, "zero": false}, "axis": {"orient": "right", "values": [-80,-70,-60,-50,-40,-30,-20,-10,0,10,20,30,40,50,60,70,80,90,100,110,120,130,140,150], "labelExpr": "'$' + datum.value", "grid": true, "gridColor": {"condition": {"test": "datum.value === 0", "value": "#000000"}, "value": "#ebebeb"}, "tickSize": 5, "labelPadding": 3, "titlePadding": 6}},
         "color": {"datum": "EV Profit v7 (Spin) ($)"}}},
      {"data": {"name": "nwrb"}, "mark": {"type": "line", "strokeWidth": 1.2}, "encoding": {
         "x": {"field": "t", "type": "quantitative", "title": "Tournaments Played", "scale": {"domain": [0, 498], "nice": false, "zero": false}, "axis": {"values": [1,24,47,70,93,116,139,162,185,208,231,254,277,300,323,346,369,392,415,438,461,498], "grid": true, "gridColor": "#ebebeb", "tickSize": 5, "labelPadding": 2, "titlePadding": 4}},
         "y": {"field": "v", "type": "quantitative", "title": "$", "scale": {"domain": [-80, 150], "nice": false, "zero": false}, "axis": {"orient": "right", "values": [-80,-70,-60,-50,-40,-30,-20,-10,0,10,20,30,40,50,60,70,80,90,100,110,120,130,140,150], "labelExpr": "'$' + datum.value", "grid": true, "gridColor": {"condition": {"test": "datum.value === 0", "value": "#000000"}, "value": "#ebebeb"}, "tickSize": 5, "labelPadding": 3, "titlePadding": 6}},
         "color": {"datum": "My C Net Won + RB ($)"}}},
      {"data": {"name": "info"}, "mark": {"type": "rect", "fill": "white", "stroke": "#8a8a8a", "strokeWidth": 1},
       "encoding": {
         "x": {"datum": 0.4, "type": "quantitative", "title": "Tournaments Played", "scale": {"domain": [0, 498], "nice": false, "zero": false}, "axis": {"values": [1,24,47,70,93,116,139,162,185,208,231,254,277,300,323,346,369,392,415,438,461,498], "grid": true, "gridColor": "#ebebeb", "tickSize": 5, "labelPadding": 2, "titlePadding": 4}},
         "x2": {"datum": 77.2},
         "y": {"datum": 150, "type": "quantitative", "title": "$", "scale": {"domain": [-80, 150], "nice": false, "zero": false}, "axis": {"orient": "right", "values": [-80,-70,-60,-50,-40,-30,-20,-10,0,10,20,30,40,50,60,70,80,90,100,110,120,130,140,150], "labelExpr": "'$' + datum.value", "grid": true, "gridColor": {"condition": {"test": "datum.value === 0", "value": "#000000"}, "value": "#ebebeb"}, "tickSize": 5, "labelPadding": 3, "titlePadding": 6}},
         "y2": {"datum": 80.1}}},
      {"data": {"name": "info"}, "mark": {"type": "text", "align": "left", "baseline": "top", "lineBreak": "\n", "lineHeight": 20, "font": "Lato", "fontSize": 11.5, "color": "#6b6b6b", "dx": 7, "dy": 4},
       "encoding": {
         "x": {"datum": 0, "type": "quantitative", "title": "Tournaments Played", "scale": {"domain": [0, 498], "nice": false, "zero": false}, "axis": {"values": [1,24,47,70,93,116,139,162,185,208,231,254,277,300,323,346,369,392,415,438,461,498], "grid": true, "gridColor": "#ebebeb", "tickSize": 5, "labelPadding": 2, "titlePadding": 4}},
         "y": {"datum": 150, "type": "quantitative", "title": "$", "scale": {"domain": [-80, 150], "nice": false, "zero": false}, "axis": {"orient": "right", "values": [-80,-70,-60,-50,-40,-30,-20,-10,0,10,20,30,40,50,60,70,80,90,100,110,120,130,140,150], "labelExpr": "'$' + datum.value", "grid": true, "gridColor": {"condition": {"test": "datum.value === 0", "value": "#000000"}, "value": "#ebebeb"}, "tickSize": 5, "labelPadding": 3, "titlePadding": 6}},
         "text": {"field": "info"}}}
    ]
  },
  {
    "data": {"name": "chips"},
    "mark": {"type": "line", "strokeWidth": 2.6},
    "encoding": {
      "x": {"field": "t", "type": "quantitative", "title": "Tournaments Played", "scale": {"domain": [0, 498], "nice": false, "zero": false}, "axis": {"values": [1,24,47,70,93,116,139,162,185,208,231,254,277,300,323,346,369,392,415,438,461,498], "grid": true, "gridColor": "#ebebeb", "tickSize": 5, "labelPadding": 2, "titlePadding": 4}},
      "y": {"field": "v", "type": "quantitative", "title": "#",
        "scale": {"domain": [-4000, 36000], "nice": false, "zero": false},
        "axis": {"orient": "right", "offset": 69, "values": [-4000,-2000,0,2000,4000,6000,8000,10000,12000,14000,16000,18000,20000,22000,24000,26000,28000,30000,32000,34000,36000], "labelExpr": "replace(format(datum.value, ','), '\u2212', '-')", "grid": false, "tickSize": 4, "labelPadding": 3, "titlePadding": 7}},
      "color": {"datum": "Net Expected Chips Won (#)"}
    }
  }
],
"resolve": {"scale": {"y": "independent"}, "axis": {"y": "independent"}}
}
